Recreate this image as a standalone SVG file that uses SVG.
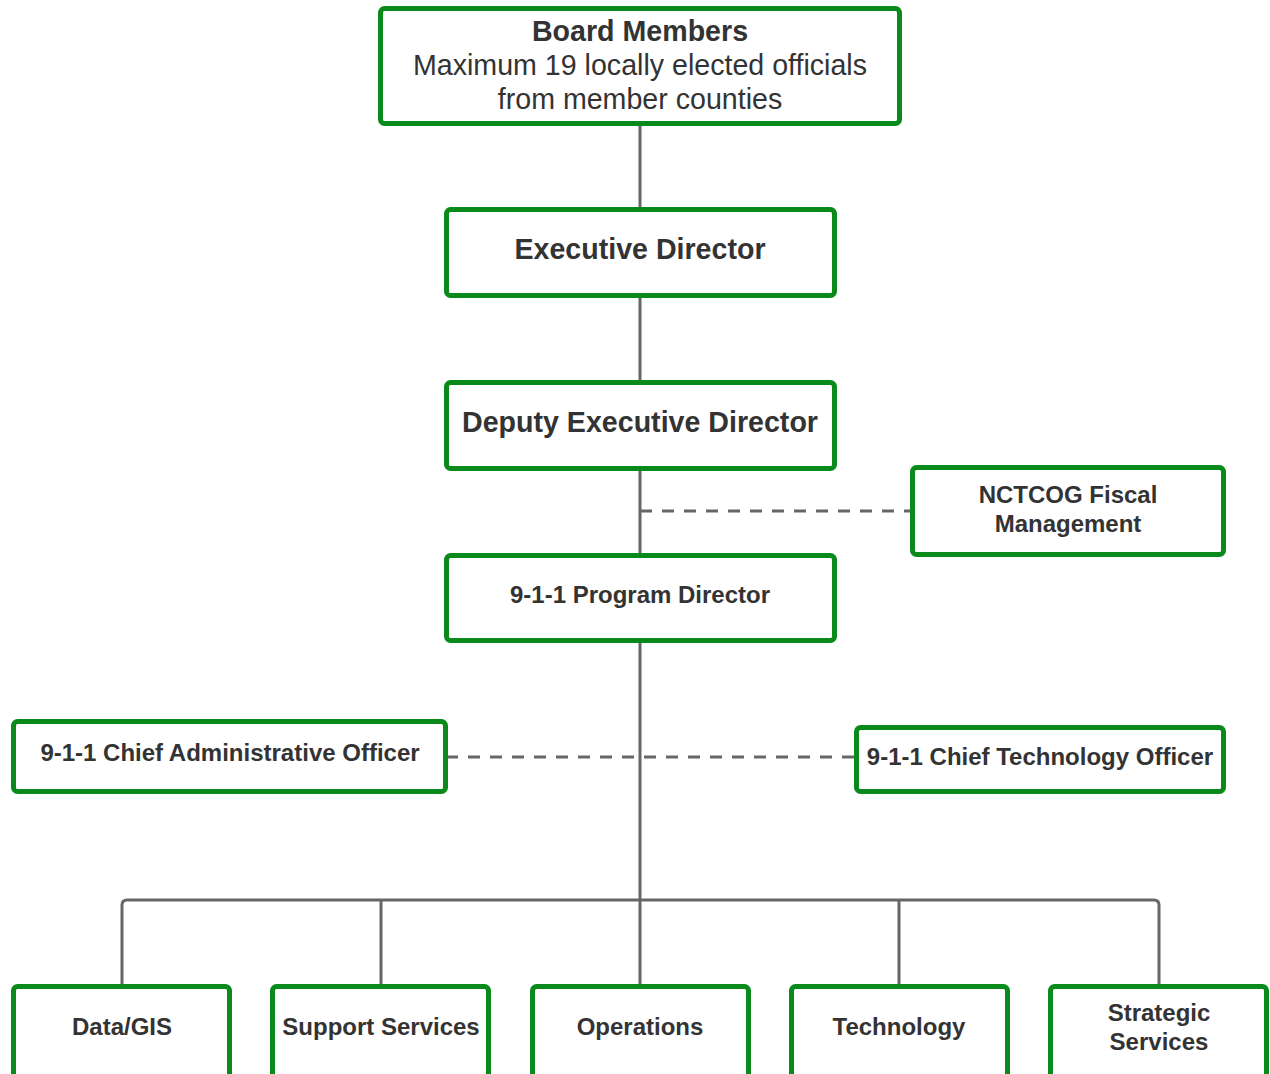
<svg xmlns="http://www.w3.org/2000/svg" width="1270" height="1074" viewBox="0 0 1270 1074">
<style>
.box{fill:#fff;stroke:#0b8a1c;stroke-width:5}
.t{font-family:"Liberation Sans",Arial,sans-serif;fill:#333;text-anchor:middle;font-weight:bold}
.r{font-weight:normal}
.L{font-size:28.6px}
.S{font-size:24px}
.ln{fill:none;stroke:#666;stroke-width:3}
.d{stroke-dasharray:12 10}
</style>
<rect width="1270" height="1074" fill="#fff"/>
<g id="connectors">
<path class="ln" d="M640 124V986"/>
<path class="ln d" d="M640 511H912"/>
<path class="ln d" d="M446 757H856"/>
<path class="ln" d="M122 986V905Q122 900 127 900H1154Q1159 900 1159 905V986"/>
<path class="ln" d="M381 900V986M899 900V986"/>
</g>
<g id="board"><rect class="box" x="380.5" y="8.5" width="519" height="115" rx="4"/>
<text class="t L" x="640" y="41">Board Members</text>
<text class="t r L" x="640" y="75">Maximum 19 locally elected officials</text>
<text class="t r L" x="640" y="109">from member counties</text></g>
<g id="exec"><rect class="box" x="446.5" y="209.5" width="388" height="86" rx="4"/>
<text class="t L" x="640" y="259">Executive Director</text></g>
<g id="deputy"><rect class="box" x="446.5" y="382.5" width="388" height="86" rx="4"/>
<text class="t L" x="640" y="432">Deputy Executive Director</text></g>
<g id="nctcog"><rect class="box" x="912.5" y="467.5" width="311" height="87" rx="4"/>
<text class="t S" x="1068" y="503">NCTCOG Fiscal</text>
<text class="t S" x="1068" y="532">Management</text></g>
<g id="program"><rect class="box" x="446.5" y="555.5" width="388" height="85" rx="4"/>
<text class="t S" x="640" y="603">9-1-1 Program Director</text></g>
<g id="cao"><rect class="box" x="13.5" y="721.5" width="432" height="70" rx="4"/>
<text class="t S" x="230" y="761">9-1-1 Chief Administrative Officer</text></g>
<g id="cto"><rect class="box" x="856.5" y="727.5" width="367" height="64" rx="4"/>
<text class="t S" x="1040" y="765">9-1-1 Chief Technology Officer</text></g>
<g id="datagis"><rect class="box" x="13.5" y="986.5" width="216" height="95" rx="4"/>
<text class="t S" x="122" y="1035">Data/GIS</text></g>
<g id="support"><rect class="box" x="272.5" y="986.5" width="216" height="95" rx="4"/>
<text class="t S" x="381" y="1035">Support Services</text></g>
<g id="operations"><rect class="box" x="532.5" y="986.5" width="216" height="95" rx="4"/>
<text class="t S" x="640" y="1035">Operations</text></g>
<g id="technology"><rect class="box" x="791.5" y="986.5" width="216" height="95" rx="4"/>
<text class="t S" x="899" y="1035">Technology</text></g>
<g id="strategic"><rect class="box" x="1050.5" y="986.5" width="216" height="95" rx="4"/>
<text class="t S" x="1159" y="1021">Strategic</text>
<text class="t S" x="1159" y="1050">Services</text></g>
</svg>
